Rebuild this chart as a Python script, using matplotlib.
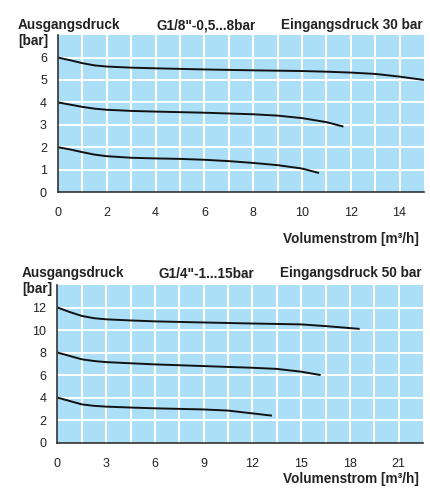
import matplotlib
matplotlib.use("Agg")
import matplotlib.pyplot as plt

plt.rcParams['font.family'] = ['Liberation Sans', 'DejaVu Sans']

# Chart 1: G1/8"-0,5...8bar, Eingangsdruck 30 bar
c1_x1 = [0, 0.5, 1, 1.5, 2, 3, 4, 6, 8, 10, 11, 12, 13, 14, 15]
c1_y1 = [6.0, 5.88, 5.75, 5.65, 5.6, 5.55, 5.52, 5.47, 5.43, 5.4, 5.37, 5.33, 5.27, 5.15, 5.0]
c1_x2 = [0, 0.5, 1, 1.5, 2, 3, 4, 6, 8, 9, 10, 11, 11.7]
c1_y2 = [4.0, 3.9, 3.8, 3.72, 3.67, 3.62, 3.59, 3.54, 3.47, 3.41, 3.3, 3.12, 2.92]
c1_x3 = [0, 0.5, 1, 1.5, 2, 3, 4, 5, 6, 7, 8, 9, 10, 10.7]
c1_y3 = [2.0, 1.9, 1.78, 1.67, 1.6, 1.53, 1.5, 1.48, 1.44, 1.38, 1.3, 1.2, 1.05, 0.85]
c1_xticks = [0, 2, 4, 6, 8, 10, 12, 14]
c1_yticks = [0, 1, 2, 3, 4, 5, 6]

# Chart 2: G1/4"-1...15bar, Eingangsdruck 50 bar
c2_x1 = [0, 0.75, 1.5, 2.25, 3, 4.5, 6, 9, 12, 15, 16.5, 18.6]
c2_y1 = [12.0, 11.6, 11.25, 11.05, 10.95, 10.85, 10.77, 10.67, 10.58, 10.5, 10.35, 10.1]
c2_x2 = [0, 0.75, 1.5, 2.25, 3, 4.5, 6, 9, 12, 13.5, 15, 16.2]
c2_y2 = [8.0, 7.7, 7.4, 7.25, 7.15, 7.05, 6.95, 6.8, 6.65, 6.55, 6.3, 6.0]
c2_x3 = [0, 0.75, 1.5, 2.25, 3, 4.5, 6, 9, 10.5, 12, 13.2]
c2_y3 = [4.0, 3.7, 3.4, 3.27, 3.2, 3.12, 3.05, 2.95, 2.85, 2.6, 2.4]
c2_xticks = [0, 3, 6, 9, 12, 15, 18, 21]
c2_yticks = [0, 2, 4, 6, 8, 10, 12]

FILL = '#aadff7'
TXT = '#222222'

fig = plt.figure(figsize=(4.3, 4.95), dpi=100)

def setup(ax, xlim, ylim, xgrid, ygrid, xticks, yticks):
    ax.set_facecolor(FILL)
    ax.set_xlim(*xlim)
    ax.set_ylim(*ylim)
    for v in xgrid:
        ax.axvline(v, color='white', lw=1.5, zorder=1)
    for v in ygrid:
        ax.axhline(v, color='white', lw=1.5, zorder=1)
    ax.set_xticks(xticks)
    ax.set_yticks(yticks)
    ax.tick_params(length=0, labelsize=9, labelcolor=TXT)
    ax.tick_params(axis='x', pad=11)
    ax.tick_params(axis='y', pad=8)
    for s in ['top', 'right']:
        ax.spines[s].set_visible(False)
    for s in ['left', 'bottom']:
        ax.spines[s].set_color('#333333')
        ax.spines[s].set_linewidth(1.2)
        ax.spines[s].set_zorder(5)

ax1 = fig.add_axes([0.1349, 0.612, 0.851, 0.317])
setup(ax1, (0, 15), (0, 7), [i for i in range(1, 15)], [1, 2, 3, 4, 5, 6], c1_xticks, c1_yticks)
for xs, ys in [(c1_x1, c1_y1), (c1_x2, c1_y2), (c1_x3, c1_y3)]:
    ax1.plot(xs, ys, color='#111111', lw=1.4, zorder=3, solid_capstyle='butt')

ax2 = fig.add_axes([0.1337, 0.1057, 0.85, 0.3186])
setup(ax2, (0, 22.5), (0, 14), [1.5 * i for i in range(1, 15)], [2, 4, 6, 8, 10, 12], c2_xticks, c2_yticks)
for xs, ys in [(c2_x1, c2_y1), (c2_x2, c2_y2), (c2_x3, c2_y3)]:
    ax2.plot(xs, ys, color='#111111', lw=1.4, zorder=3, solid_capstyle='butt')

kw = dict(fontsize=9.8, fontweight='bold', color=TXT, va='center')
# top chart texts
fig.text(18/430, 1 - 25/495, 'Ausgangsdruck', ha='left', **kw)
fig.text(18/430, 1 - 41/495, '[bar]', ha='left', **kw)
fig.text(206/430, 1 - 25/495, 'G1/8"-0,5...8bar', ha='center', **kw)
fig.text(422.5/430, 1 - 25/495, 'Eingangsdruck 30 bar', ha='right', **kw)
fig.text(419/430, 1 - 239/495, 'Volumenstrom [m³/h]', ha='right', **kw)
# bottom chart texts
fig.text(22/430, 1 - 273.5/495, 'Ausgangsdruck', ha='left', **kw)
fig.text(22/430, 1 - 289/495, '[bar]', ha='left', **kw)
fig.text(206.5/430, 1 - 273.5/495, 'G1/4"-1...15bar', ha='center', **kw)
fig.text(421.5/430, 1 - 273.5/495, 'Eingangsdruck 50 bar', ha='right', **kw)
fig.text(419/430, 1 - 479/495, 'Volumenstrom [m³/h]', ha='right', **kw)

fig.savefig('out.png', dpi=100, facecolor='white')
